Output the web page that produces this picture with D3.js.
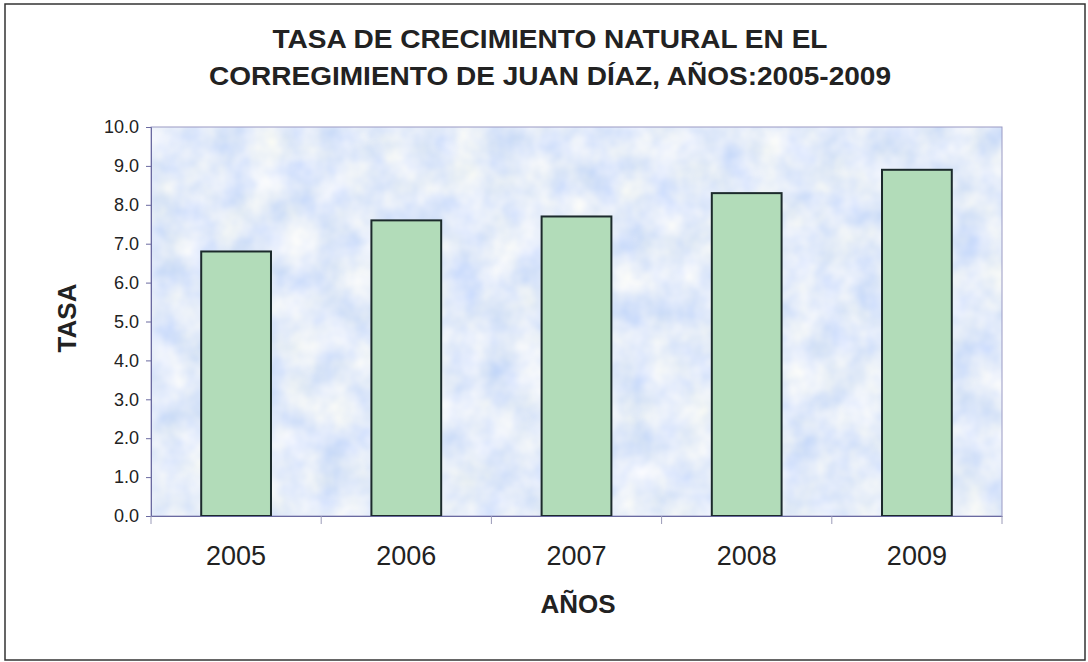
<!DOCTYPE html>
<html>
<head>
<meta charset="utf-8">
<script src="https://cdn.jsdelivr.net/npm/d3@7"></script>
<style>
  body { margin: 0; background: #fff; }
  text { font-family: Arial, "Liberation Sans", sans-serif; fill: #222; }
</style>
</head>
<body>
<svg class="root"></svg>
<script>
// data
var years = ["2005", "2006", "2007", "2008", "2009"];
var rates = [6.8, 7.6, 7.7, 8.3, 8.9];
var yTicks = [0, 1, 2, 3, 4, 5, 6, 7, 8, 9, 10];
var titleLines = ["TASA DE CRECIMIENTO NATURAL EN EL", "CORREGIMIENTO DE JUAN DÍAZ, AÑOS:2005-2009"];
var titleWidths = [555, 682];

var W = 1088, H = 662;
var margin = {top: 127, right: 86, bottom: 146, left: 151},
  width = W - margin.left - margin.right,
  height = H - margin.top - margin.bottom;

var svg = d3.select(".root").attr("width", W).attr("height", H);

// mottled blue fill for the plot area
var defs = svg.append("defs");
var f = defs.append("filter").attr("id", "mottle")
  .attr("x", 0).attr("y", 0).attr("width", 1).attr("height", 1);
f.append("feTurbulence").attr("type", "fractalNoise")
  .attr("baseFrequency", 0.03).attr("numOctaves", 3).attr("seed", 4).attr("result", "n");
f.append("feColorMatrix").attr("in", "n").attr("type", "matrix")
  .attr("values", "0.5 0 0 0 0.52  0.35 0 0 0 0.66  0 0 0.12 0 0.89  0 0 0 0 1");

// outer frame
svg.append("rect")
  .attr("x", 5).attr("y", 4).attr("width", 1080).attr("height", 656)
  .attr("fill", "#fff").attr("stroke", "#333").attr("stroke-width", 1.5);

var chart = svg.append("g")
  .attr("transform", "translate(" + margin.left + "," + margin.top + ")");

var x = d3.scaleBand()
  .domain(years)
  .range([0, width])
  .paddingInner(0.59)
  .paddingOuter(0.295);

var y = d3.scaleLinear()
  .domain([0, 10])
  .range([height, 0]);

chart.append("rect")
  .attr("width", width).attr("height", height)
  .attr("fill", "#cfe2f7")
  .attr("filter", "url(#mottle)");
chart.append("rect")
  .attr("width", width).attr("height", height)
  .attr("fill", "none").attr("stroke", "#9a9ac4").attr("stroke-width", 1);

chart.selectAll(".bar")
    .data(rates)
  .enter().append("rect")
    .attr("class", "bar")
    .attr("x", (d, i) => x(years[i]))
    .attr("y", (d) => y(d))
    .attr("width", x.bandwidth())
    .attr("height", (d) => height - y(d))
    .attr("fill", "#b2dcb9")
    .attr("stroke", "#1c2a2c")
    .attr("stroke-width", 2);

// y axis
var yAxis = d3.axisLeft(y)
  .tickValues(yTicks)
  .tickSize(5)
  .tickPadding(7)
  .tickFormat(d3.format(".1f"));
var gy = chart.append("g").call(yAxis);
gy.select(".domain").attr("stroke", "#6a6aa0");
gy.selectAll(".tick line").attr("stroke", "#6a6aa0");
gy.selectAll("text").style("font-size", "18px").attr("fill", "#2a2a2a");

// x axis, ticks sit on the category boundaries
var xAxis = d3.axisBottom(x).tickSize(0).tickPadding(30);
var gx = chart.append("g")
  .attr("transform", "translate(0," + height + ")")
  .call(xAxis);
gx.select(".domain").attr("stroke", "#6a6aa0");
gx.selectAll("text").style("font-size", "27px").attr("fill", "#2a2a2a");
var step = x.step();
gx.selectAll(".sep")
    .data(d3.range(years.length + 1))
  .enter().append("line")
    .attr("x1", (d) => d * step).attr("x2", (d) => d * step)
    .attr("y1", 0).attr("y2", 8)
    .attr("stroke", "#9a9ab8");

// titles
svg.selectAll(".title")
    .data(titleLines)
  .enter().append("text")
    .attr("x", 550)
    .attr("y", (d, i) => 48 + i * 37)
    .attr("text-anchor", "middle")
    .attr("textLength", (d, i) => titleWidths[i])
    .attr("lengthAdjust", "spacingAndGlyphs")
    .style("font-size", "26px")
    .style("font-weight", "bold")
    .text((d) => d);

svg.append("text")
  .attr("x", 578).attr("y", 613)
  .attr("text-anchor", "middle")
  .style("font-size", "26px").style("font-weight", "bold")
  .text("AÑOS");

svg.append("text")
  .attr("transform", "translate(76,318) rotate(-90)")
  .attr("text-anchor", "middle")
  .style("font-size", "26px").style("font-weight", "bold")
  .text("TASA");
</script>
</body>
</html>
